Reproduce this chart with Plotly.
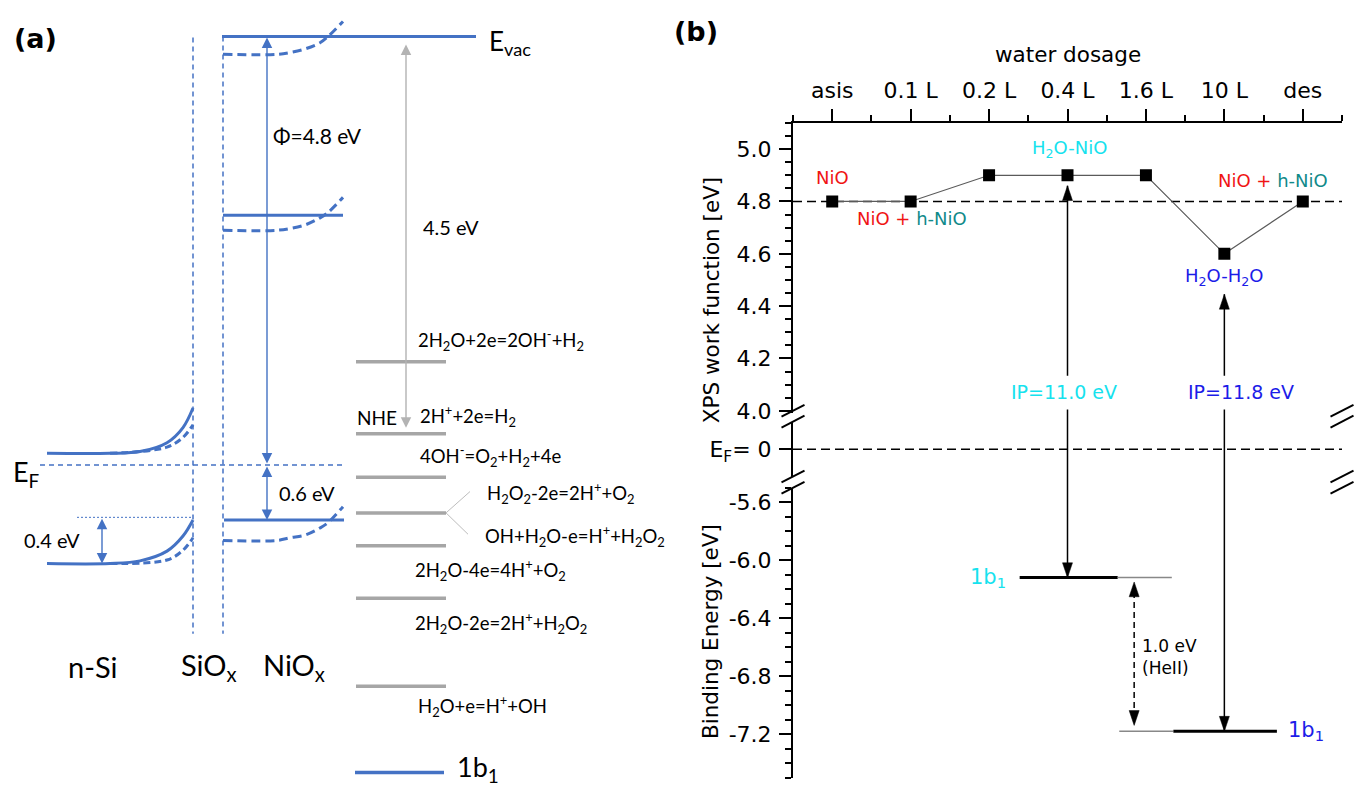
import plotly.graph_objects as go

W, H = 1355, 798

# ============================ DATA ============================
# ---- panel (a): energies in eV relative to the vacuum level ----
e_vac = 0.0
e_fermi = -4.82
niox_levels = [0.0, -2.01, -5.44]            # NiOx: E_vac, upper level, valence band
si_vb_top = -5.41
si_cb = [-4.69, -4.69, -4.67, -4.57, -4.40, -4.18]
si_vb = [-5.93, -5.93, -5.90, -5.79, -5.62, -5.44]
si_cb_dash = [-4.69, -4.62, -4.51, -4.37]
si_vb_dash = [-5.93, -5.89, -5.78, -5.64]
niox_vac_dash = [-0.20, -0.20, -0.18, -0.14, -0.07, 0.00, 0.17]
niox_up_dash = [-2.18, -2.18, -2.16, -2.12, -2.04, -1.98, -1.81]
niox_vb_dash = [-5.67, -5.67, -5.64, -5.61, -5.53, -5.47, -5.29]
redox_levels = [-3.66, -4.47, -4.96, -5.36, -5.73, -6.32, -7.31]
redox_labels = [
    "2H<sub>2</sub>O+2e=2OH<sup>-</sup>+H<sub>2</sub>",
    "2H<sup>+</sup>+2e=H<sub>2</sub>",
    "4OH<sup>-</sup>=O<sub>2</sub>+H<sub>2</sub>+4e",
    "H<sub>2</sub>O<sub>2</sub>-2e=2H<sup>+</sup>+O<sub>2</sub>",
    "OH+H<sub>2</sub>O-e=H<sup>+</sup>+H<sub>2</sub>O<sub>2</sub>",
    "2H<sub>2</sub>O-4e=4H<sup>+</sup>+O<sub>2</sub>",
    "2H<sub>2</sub>O-2e=2H<sup>+</sup>+H<sub>2</sub>O<sub>2</sub>",
    "H<sub>2</sub>O+e=H<sup>+</sup>+OH",
]
redox_label_e = [-3.42, -4.27, -4.72, -5.14, -5.62, -6.00, -6.60, -7.53]
nhe_tip = -4.42
evac_tip_gray = -0.09
b1_legend_e = -8.28
region_labels = ["n-Si", "SiO<sub>x</sub>", "NiO<sub>x</sub>"]
region_label_e = -7.09

# ---- panel (b) ----
doses = ["asis", "0.1 L", "0.2 L", "0.4 L", "1.6 L", "10 L", "des"]
work_function = [4.8, 4.8, 4.9, 4.9, 4.9, 4.6, 4.8]
wf_reference = 4.8
fermi_level = 0.0
b1_binding = [-6.12, -7.18]          # 1b1: H2O-NiO (0.4 L), H2O-H2O (10 L)
ip_dose_pos = [4, 6]                  # 0.4 L and 10 L
ip_tip_top = [4.86, 4.445]
ip_texts = ["IP=11.0 eV", "IP=11.8 eV"]
be_ticks = [-5.6, -6.0, -6.4, -6.8, -7.2]
be_ticktext = ["-5.6", "-6.0", "-6.4", "-6.8", "-7.2"]

# ============================ STYLE / LAYOUT ============================
BLUE = "#4472C4"
GRAY = "#A6A6A6"
LGRAY = "#BDBDBD"
FA = "Lato, 'Open Sans', sans-serif"
FB = "DejaVu Sans, sans-serif"
RED = "#F01414"
TEAL = "#118A8A"
CYAN = "#16E2EE"
DBLUE = "#1C1CE8"

# panel (a) uses a pixel-like x axis and eV y axis (90 px / eV, E_vac at 37 px)
A_YRANGE = [-(H - 37) / 90.0, 37 / 90.0]
SI_X = [47, 110, 140, 167, 183, 193]
SI_XD = [110, 167, 183, 193]
NIO_XD = [223, 277, 290, 305, 320, 328, 343]
X_SI_IF, X_NIO_IF = 193, 223
VLINE_E = (-0.01, -6.72)

fig = go.Figure()


def a_line(x, y, color=BLUE, width=3, dash=None, shape="linear"):
    fig.add_trace(go.Scatter(x=x, y=y, xaxis="x", yaxis="y", mode="lines",
                             line=dict(color=color, width=width, dash=dash, shape=shape),
                             hoverinfo="skip", showlegend=False))


def a_text(x, y, text, size=19, xanchor="left", bold=False, family=FA):
    fig.add_annotation(x=x, y=y, xref="x", yref="y", text=("<b>%s</b>" % text) if bold else text,
                       showarrow=False, xanchor=xanchor, yanchor="middle",
                       font=dict(family=family, size=size, color="black"))


def a_arrow(x, y_head, y_tail, color=BLUE, width=1.4):
    fig.add_annotation(x=x, y=y_head, ax=x, ay=y_tail, xref="x", yref="y", axref="x", ayref="y",
                       text="", showarrow=True, arrowhead=2, startarrowhead=2, arrowside="end+start",
                       arrowsize=1.5, startarrowsize=1.5, arrowwidth=width, arrowcolor=color,
                       standoff=0, startstandoff=0)


# ---------------- panel (a) ----------------
a_line([X_SI_IF, X_SI_IF], list(VLINE_E), width=1.5, dash="5px,4px")
a_line([X_NIO_IF, X_NIO_IF], [e_vac, VLINE_E[1]], width=1.5, dash="5px,4px")
a_line([40, 345], [e_fermi, e_fermi], width=1.5, dash="5px,4px")
a_line(SI_X, si_cb, width=3, shape="spline")
a_line(SI_X, si_vb, width=3, shape="spline")
a_line(SI_XD, si_cb_dash, width=3, dash="7px,4px", shape="spline")
a_line(SI_XD, si_vb_dash, width=3, dash="7px,4px", shape="spline")
a_line([77, X_SI_IF], [si_vb_top, si_vb_top], width=1, dash="2px,2px")
a_line([222, 476], [niox_levels[0], niox_levels[0]], width=3)
a_line([223, 343], [niox_levels[1], niox_levels[1]], width=3)
a_line([224, 344], [niox_levels[2], niox_levels[2]], width=3)
for dash_curve in (niox_vac_dash, niox_up_dash, niox_vb_dash):
    a_line(NIO_XD, dash_curve, width=3, dash="9px,5px", shape="spline")
for lev in redox_levels:
    a_line([356, 446], [lev, lev], color=GRAY, width=3.5)
a_line([446, 470], [redox_levels[3], redox_label_e[3] + 0.02], color=LGRAY, width=1)
a_line([446, 468], [redox_levels[3], redox_label_e[4] + 0.02], color=LGRAY, width=1)
a_line([355, 444], [b1_legend_e, b1_legend_e], width=3.5)

a_arrow(267, niox_levels[0] - 0.01, e_fermi)
a_arrow(267, niox_levels[2], e_fermi)
a_arrow(102, si_vb[0], si_vb_top)
a_arrow(406, evac_tip_gray, nhe_tip, color="#B3B3B3", width=1.4)

a_text(12, -0.02, "(a)", size=27, bold=True, family="DejaVu Sans")
a_text(487, -0.07, "E<sub>vac</sub>", size=26)
a_text(271, -1.11, "\u03a6=4.8 eV", size=21)
a_text(421, -2.14, "4.5 eV", size=20)
a_text(277, -5.14, "0.6 eV", size=20)
a_text(22, -5.67, "0.4 eV", size=20)
a_text(11, -4.92, "E<sub>F</sub>", size=27)
a_text(399, nhe_tip + 0.13, "NHE", size=19, xanchor="right")
label_x = [416, 418, 418, 485, 483, 413, 413, 416]
for lx, le, lt in zip(label_x, redox_label_e, redox_labels):
    a_text(lx, le, lt, size=18.5)
for cx, lt in zip([93, 209, 294], region_labels):
    a_text(cx, region_label_e, lt, size=29, xanchor="center")
a_text(455, b1_legend_e + 0.04, "1b<sub>1</sub>", size=27)

# ---------------- panel (b) ----------------
XB_DOM = (793 / W, 1342 / W)
XB_RANGE = (0.5, 7.5)
SEG = {
    "y2": dict(domain=(1 - 418.7 / H, 1 - 124.5 / H), range=(3.99, 5.1)),
    "y3": dict(domain=(1 - 483.0 / H, 1 - 427.0 / H), range=(-0.2, 0.2)),
    "y4": dict(domain=(1 - 787.4 / H, 1 - 494.0 / H), range=(-7.5, -5.5)),
}


def to_paper(ax, v):
    d0, d1 = SEG[ax]["domain"]
    r0, r1 = SEG[ax]["range"]
    return d0 + (v - r0) / (r1 - r0) * (d1 - d0)


def from_paper(ax, p):
    d0, d1 = SEG[ax]["domain"]
    r0, r1 = SEG[ax]["range"]
    return r0 + (p - d0) / (d1 - d0) * (r1 - r0)


def px_dy(ax, px):
    d0, d1 = SEG[ax]["domain"]
    r0, r1 = SEG[ax]["range"]
    return (r1 - r0) / ((d1 - d0) * H) * px


def px_dx(px):
    return (XB_RANGE[1] - XB_RANGE[0]) / ((XB_DOM[1] - XB_DOM[0]) * W) * px


def head(xv, yv, yax, up, L=15, hw=5):
    dy = px_dy(yax, L)
    dx = px_dx(hw)
    yb = yv - dy if up else yv + dy
    fig.add_shape(type="path", path=f"M {xv},{yv} L {xv - dx},{yb} L {xv + dx},{yb} Z",
                  xref="x2", yref=yax, fillcolor="black", line=dict(color="black", width=0.5))


def vline_ann(xv, y_tip, y_tail, yax):
    fig.add_annotation(x=xv, y=y_tip, ax=xv, ay=y_tail, xref="x2", yref=yax, axref="x2", ayref=yax,
                       text="", showarrow=True, arrowhead=0, arrowwidth=1.5, arrowcolor="black",
                       standoff=0, startstandoff=0)


def b_text(x, y, text, yax="y2", size=18, color="black", xanchor="center", align="center"):
    fig.add_annotation(x=x, y=y, xref="x2", yref=yax, text=text, showarrow=False, xanchor=xanchor,
                       yanchor="middle", align=align, font=dict(family=FB, size=size, color=color))


def paper_text(xpx, ypx, text, size, angle=0, xanchor="center", family=FB):
    fig.add_annotation(x=xpx / W, y=1 - ypx / H, xref="paper", yref="paper", text=text,
                       textangle=angle, showarrow=False, xanchor=xanchor, yanchor="middle",
                       font=dict(family=family, size=size, color="black"))


xpos = list(range(1, len(doses) + 1))

fig.add_shape(type="line", xref="x2", yref="y2", x0=XB_RANGE[0], x1=XB_RANGE[1], y0=wf_reference,
              y1=wf_reference, line=dict(color="black", width=1.5, dash="9px,5px"), layer="below")
fig.add_shape(type="line", xref="x2", yref="y3", x0=XB_RANGE[0], x1=XB_RANGE[1], y0=fermi_level,
              y1=fermi_level, line=dict(color="black", width=1.5, dash="9px,5px"), layer="below")

fig.add_trace(go.Scatter(x=xpos, y=work_function, xaxis="x2", yaxis="y2", mode="lines+markers",
                         line=dict(color="#5a5a5a", width=1.2),
                         marker=dict(symbol="square", size=12, color="black"),
                         hoverinfo="skip", showlegend=False))

fig.add_trace(go.Scatter(x=[3.39, 4.64], y=[b1_binding[0]] * 2, xaxis="x2", yaxis="y4", mode="lines",
                         line=dict(color="black", width=3), hoverinfo="skip", showlegend=False))
fig.add_trace(go.Scatter(x=[4.64, 5.33], y=[b1_binding[0]] * 2, xaxis="x2", yaxis="y4", mode="lines",
                         line=dict(color="#888888", width=1.5), hoverinfo="skip", showlegend=False))
fig.add_trace(go.Scatter(x=[4.66, 5.35], y=[b1_binding[1]] * 2, xaxis="x2", yaxis="y4", mode="lines",
                         line=dict(color="#888888", width=1.5), hoverinfo="skip", showlegend=False))
fig.add_trace(go.Scatter(x=[5.35, 6.67], y=[b1_binding[1]] * 2, xaxis="x2", yaxis="y4", mode="lines",
                         line=dict(color="black", width=3), hoverinfo="skip", showlegend=False))

TEXT_TOP_WF = 4.128   # line stops above the label
TEXT_BOT_WF = 4.011   # line resumes below the label
for xv, tip in zip(ip_dose_pos, ip_tip_top):
    vline_ann(xv, tip, TEXT_TOP_WF, "y2")
    head(xv, tip, "y2", up=True)
for xv, lev in zip(ip_dose_pos, b1_binding):
    tail = from_paper("y4", to_paper("y2", TEXT_BOT_WF))
    vline_ann(xv, lev, tail, "y4")
    head(xv, lev, "y4", up=False)
b_text(3.96, 4.072, ip_texts[0], size=19, color=CYAN)
b_text(6.21, 4.072, ip_texts[1], size=19, color=DBLUE)

XD = 4.85
fig.add_shape(type="line", xref="x2", yref="y4", x0=XD, x1=XD, y0=b1_binding[0] - 0.1,
              y1=b1_binding[1] + 0.1, line=dict(color="black", width=1.5, dash="6px,4px"))
head(XD, b1_binding[0] - 0.03, "y4", up=True)
head(XD, b1_binding[1] + 0.04, "y4", up=False)
b_text(4.93, -6.665, "1.0 eV<br>(HeII)", yax="y4", size=17, xanchor="left", align="left")

b_text(1.0, 4.89, "NiO", color=RED, size=18)
b_text(2.02, 4.735,
       f'<span style="color:{RED}">NiO +</span> <span style="color:{TEAL}">h-NiO</span>', size=18)
b_text(4.02, 5.0, "H<sub>2</sub>O-NiO", color=CYAN, size=18)
b_text(6.62, 4.88,
       f'<span style="color:{RED}">NiO +</span> <span style="color:{TEAL}">h-NiO</span>', size=18)
b_text(6.0, 4.51, "H<sub>2</sub>O-H<sub>2</sub>O", color=DBLUE, size=18)
b_text(3.24, b1_binding[0], "1b<sub>1</sub>", yax="y4", size=21, color=CYAN, xanchor="right")
b_text(6.79, b1_binding[1], "1b<sub>1</sub>", yax="y4", size=21, color=DBLUE, xanchor="left")

paper_text(672, 32, "<b>(b)</b>", 27, xanchor="left", family="DejaVu Sans")
paper_text(1068, 55, "water dosage", 21.5)
paper_text(711, 304, "XPS work function [eV]", 21.5, angle=-90)
paper_text(711, 640, "Binding Energy [eV]", 21.5, angle=-90)

for xpx in (793, 1342):
    for ypx in (416, 427, 482.5, 494):
        fig.add_shape(type="line", xref="paper", yref="paper", x0=(xpx - 11.5) / W, y0=1 - (ypx + 6) / H,
                      x1=(xpx + 11.5) / W, y1=1 - (ypx - 6) / H, line=dict(color="black", width=2))

tickfont = dict(family=FB, size=22, color="black")
common_y = dict(showline=True, linewidth=2, linecolor="black", showgrid=False, zeroline=False,
                ticks="outside", ticklen=12, tickwidth=2, tickcolor="black", tickfont=tickfont,
                anchor="x2", fixedrange=True, ticklabelstandoff=3)
right_y = dict(showline=True, linewidth=2, linecolor="black", showgrid=False, zeroline=False,
               ticks="inside", ticklen=12, tickwidth=2, tickcolor="black", showticklabels=False,
               anchor="x2", side="right", fixedrange=True)

fig.update_layout(
    width=W, height=H, autosize=False, margin=dict(l=0, r=0, t=0, b=0),
    paper_bgcolor="white", plot_bgcolor="rgba(0,0,0,0)", showlegend=False,
    xaxis=dict(domain=[0, 680 / W], range=[0, 680], visible=False, fixedrange=True),
    yaxis=dict(domain=[0, 1], range=A_YRANGE, visible=False, fixedrange=True),
    xaxis2=dict(domain=list(XB_DOM), range=list(XB_RANGE), anchor="y2", side="top",
                tickmode="array", tickvals=xpos, ticktext=doses, ticks="outside", ticklen=12,
                tickwidth=2, tickcolor="black", showline=True, linewidth=2, linecolor="black",
                showgrid=False, zeroline=False, tickfont=tickfont, ticklabelstandoff=2,
                minor=dict(tickmode="array", tickvals=[v + 0.5 for v in range(0, 8)], ticks="outside",
                           ticklen=6, tickwidth=2, tickcolor="black"),
                fixedrange=True),
    yaxis2=dict(domain=list(SEG["y2"]["domain"]), range=list(SEG["y2"]["range"]), tick0=4.0, dtick=0.2,
                tickformat=".1f", minor=dict(dtick=0.05, tick0=4.0, ticks="outside", ticklen=6,
                                             tickwidth=2, tickcolor="black"), **common_y),
    yaxis3=dict(domain=list(SEG["y3"]["domain"]), range=list(SEG["y3"]["range"]), tickmode="array",
                tickvals=[fermi_level], ticktext=["E<sub>F</sub>= 0"], **common_y),
    yaxis4=dict(domain=list(SEG["y4"]["domain"]), range=list(SEG["y4"]["range"]), tickmode="array",
                tickvals=be_ticks, ticktext=be_ticktext,
                minor=dict(dtick=0.1, tick0=-7.2, ticks="outside", ticklen=6,
                           tickwidth=2, tickcolor="black"), **common_y),
    yaxis5=dict(overlaying="y2", range=list(SEG["y2"]["range"]), tick0=4.0, dtick=0.2,
                minor=dict(dtick=0.05, tick0=4.0, ticks="inside", ticklen=6, tickwidth=2, tickcolor="black"),
                **right_y),
    yaxis6=dict(overlaying="y3", range=list(SEG["y3"]["range"]), tickmode="array", tickvals=[fermi_level],
                **right_y),
    yaxis7=dict(overlaying="y4", range=list(SEG["y4"]["range"]), tick0=-7.2, dtick=0.4,
                minor=dict(dtick=0.1, tick0=-7.2, ticks="inside", ticklen=6, tickwidth=2, tickcolor="black"),
                **right_y),
)

fig.write_html("out.html", config={"displayModeBar": False},
               post_script="document.body.style.margin='0px';")
